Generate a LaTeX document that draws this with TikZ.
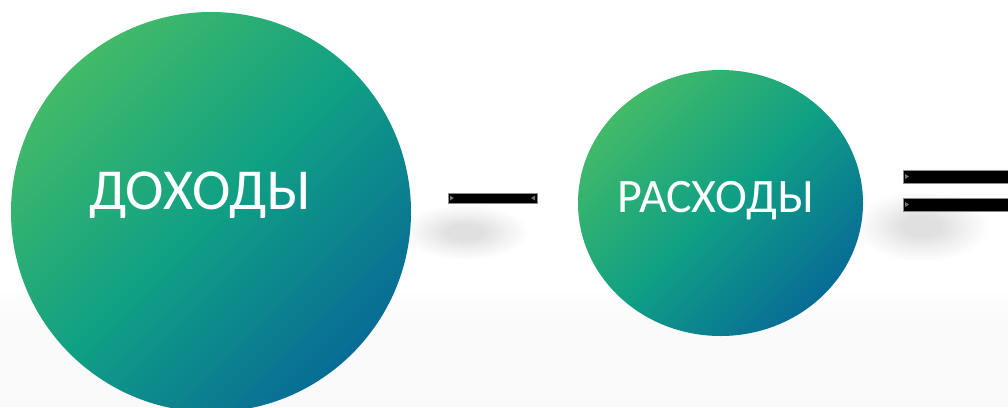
\documentclass[tikz,border=0pt]{standalone}
\usepackage{fontspec}
\setmainfont{Carlito}
\definecolor{gA}{RGB}{66,186,104}
\definecolor{gB}{RGB}{16,160,132}
\definecolor{gC}{RGB}{8,108,150}
\definecolor{shd}{RGB}{224,224,224}
\definecolor{floor}{RGB}{250,250,250}
\pgfdeclareradialshading{softshadow}{\pgfpoint{0bp}{0bp}}{%
  color(0bp)=(shd); color(7bp)=(shd); color(16bp)=(shd!45!white); color(25bp)=(white); color(50bp)=(white)}
\tikzset{
  ball/.style={top color=gA, bottom color=gC, middle color=gB, shading angle=45},
  bar/.style={fill=black, draw=black!45, line width=0.8pt},
  shadowblob/.style={shading=softshadow},
  label/.style={text=white, inner sep=0pt, anchor=center},
}
\begin{document}
\begin{tikzpicture}[x=1pt,y=-1pt]
\useasboundingbox[fill=white] (0,0) rectangle (1008,407);
\shade[top color=white, bottom color=floor] (0,290) rectangle (1008,320);
\fill[floor] (0,320) rectangle (1008,407);
% shadows
\shade[shadowblob] (465,232) ellipse (64 and 28);
\shade[shadowblob] (922,226) ellipse (68 and 36);
% circles
\shade[ball] (211,212) circle (200);
\shade[ball] (720.5,203) ellipse (142.5 and 133);
\node[label, font=\fontsize{58}{58}\selectfont] (inc) at (200,195) {ДОХОДЫ};
\node[label, font=\fontsize{48}{48}\selectfont] (exp) at (715.5,201) {РАСХОДЫ};
% minus
\draw[bar] (448,193) rectangle (537,203);
\fill[black!55] (450,195.5) -- (454,198) -- (450,200.5) -- cycle;
\fill[black!55] (535,195.5) -- (531,198) -- (535,200.5) -- cycle;
% equals
\draw[bar] (903,170.5) rectangle (1012,183);
\draw[bar] (903,198.5) rectangle (1012,211);
\fill[black!55] (905,174) -- (909,176.5) -- (905,179) -- cycle;
\fill[black!55] (905,202) -- (909,204.5) -- (905,207) -- cycle;
\end{tikzpicture}
\end{document}
